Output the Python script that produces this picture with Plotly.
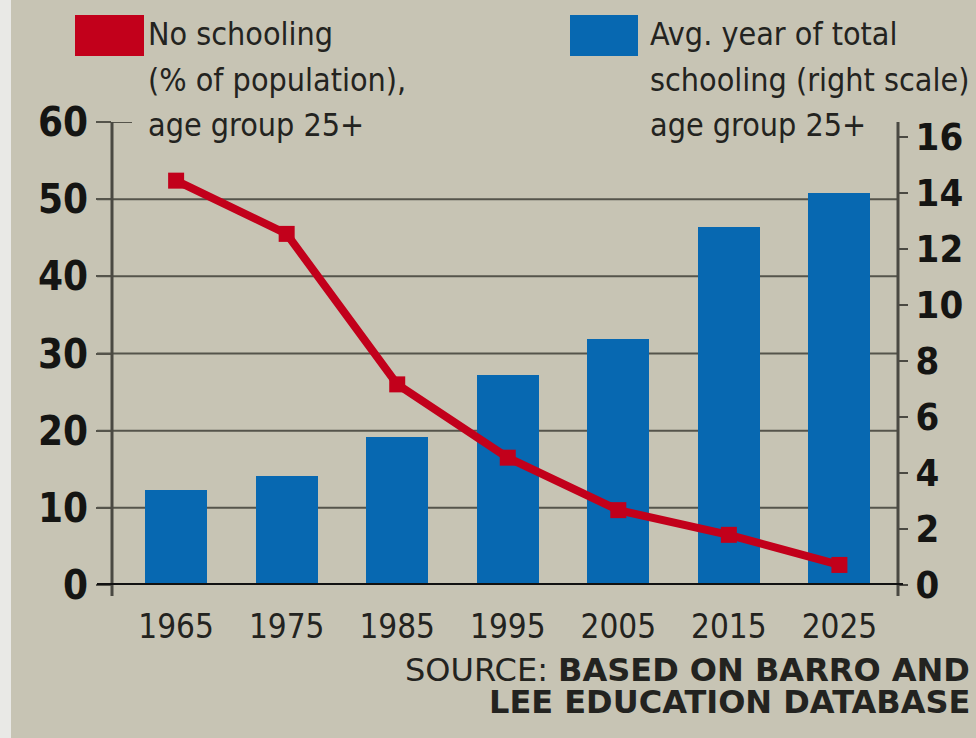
import plotly.graph_objects as go

# ---- data ----
years = ["1965", "1975", "1985", "1995", "2005", "2015", "2025"]
no_schooling = [52.4, 45.5, 26.0, 16.5, 9.7, 6.5, 2.6]      # % of population (left scale)
avg_years = [3.4, 3.9, 5.3, 7.5, 8.8, 12.8, 14.0]           # years (right scale)
left_ticks = [0, 10, 20, 30, 40, 50, 60]
right_ticks = [0, 2, 4, 6, 8, 10, 12, 14, 16]
legend_red = ["No schooling", "(% of population),", "age group 25+"]
legend_blue = ["Avg. year of total", "schooling (right scale)", "age group 25+"]

# ---- style ----
W, H = 976, 738
L, R, T, B = 112, 78, 122, 153
PW, PH = W - L - R, H - T - B
BG = "#c7c4b4"
RED = "#c2001b"
BLUE = "#0768b1"
GRID = "#55544b"
TXT = "#232320"
NARROW = "Liberation Sans Narrow, DejaVu Sans Condensed, Arial Narrow, sans-serif"


def px(x):
    return (x - L) / PW


def py(y):
    return (H - B - y) / PH


fig = go.Figure()
fig.add_trace(go.Bar(
    x=years, y=avg_years, yaxis="y", width=0.56,
    marker=dict(color=BLUE, line=dict(width=0)),
    name="Avg. year of total schooling", showlegend=False,
))
fig.add_trace(go.Scatter(
    x=years, y=no_schooling, yaxis="y2", mode="lines+markers",
    line=dict(color=RED, width=8),
    marker=dict(symbol="square", size=16, color=RED),
    name="No schooling", showlegend=False,
))

shapes = []
for v in left_ticks[1:-1]:
    shapes.append(dict(type="line", xref="paper", yref="y2", x0=px(97), x1=1, y0=v, y1=v,
                       line=dict(color=GRID, width=2), layer="below"))
shapes.append(dict(type="line", xref="paper", yref="y2", x0=px(97), x1=px(132),
                   y0=left_ticks[-1], y1=left_ticks[-1], line=dict(color=GRID, width=2)))
shapes.append(dict(type="line", xref="paper", yref="paper", x0=0, x1=0, y0=py(596), y1=1,
                   line=dict(color="#4a4942", width=3)))
shapes.append(dict(type="line", xref="paper", yref="paper", x0=1, x1=1, y0=py(596), y1=1,
                   line=dict(color="#4a4942", width=3)))
shapes.append(dict(type="line", xref="paper", yref="y2", x0=px(97), x1=px(903), y0=0, y1=0,
                   line=dict(color="#111111", width=4)))
shapes.append(dict(type="rect", xref="paper", yref="paper", x0=px(0), x1=px(11), y0=py(H), y1=py(0),
                   fillcolor="#e9e9e6", line=dict(width=0), layer="below"))
shapes.append(dict(type="rect", xref="paper", yref="paper", x0=px(75), x1=px(144), y0=py(56), y1=py(15),
                   fillcolor=RED, line=dict(width=0)))
shapes.append(dict(type="rect", xref="paper", yref="paper", x0=px(570), x1=px(638), y0=py(56), y1=py(15),
                   fillcolor=BLUE, line=dict(width=0)))

annotations = []
for i, t in enumerate(legend_red):
    annotations.append(dict(text=t, xref="paper", yref="paper", x=px(146), y=py(34 + 45.5 * i),
                            xanchor="left", yanchor="middle", showarrow=False,
                            font=dict(family=NARROW, size=32, color=TXT)))
for i, t in enumerate(legend_blue):
    annotations.append(dict(text=t, xref="paper", yref="paper", x=px(648), y=py(34 + 45.5 * i),
                            xanchor="left", yanchor="middle", showarrow=False,
                            font=dict(family=NARROW, size=32, color=TXT)))
annotations.append(dict(text="SOURCE: <b>BASED ON BARRO AND</b>", xref="paper", yref="paper",
                        x=px(972), y=py(670), xanchor="right", yanchor="middle", showarrow=False,
                        font=dict(family="DejaVu Sans", size=32, color=TXT)))
annotations.append(dict(text="<b>LEE EDUCATION DATABASE</b>", xref="paper", yref="paper",
                        x=px(972), y=py(702), xanchor="right", yanchor="middle", showarrow=False,
                        font=dict(family="DejaVu Sans", size=32, color=TXT)))

fig.update_layout(
    width=W, height=H,
    margin=dict(l=L, r=R, t=T, b=B, pad=0, autoexpand=False),
    paper_bgcolor=BG, plot_bgcolor=BG,
    bargap=0,
    xaxis=dict(type="category", range=[-0.58, 6.53], showgrid=False, zeroline=False,
               showline=False, ticks="outside", ticklen=12, tickcolor="rgba(0,0,0,0)",
               automargin=False,
               tickfont=dict(family=NARROW, size=33, color=TXT)),
    yaxis=dict(side="right", range=[0, PH / 28.0], tickvals=right_ticks, showgrid=False,
               zeroline=False, showline=False, ticks="outside", ticklen=9, tickwidth=2,
               tickcolor="#4a4942", ticklabelstandoff=0, automargin=False,
               tickfont=dict(family=NARROW, size=38, color="#151513", weight="bold")),
    yaxis2=dict(side="left", overlaying="y", range=[0, 60], tickvals=left_ticks,
                showgrid=False, zeroline=False, showline=False, ticks="outside", ticklen=15,
                tickwidth=2, tickcolor=GRID, automargin=False,
                tickfont=dict(family=NARROW, size=40, color="#151513", weight="bold")),
    shapes=shapes,
    annotations=annotations,
)

fig.write_html("out.html")
